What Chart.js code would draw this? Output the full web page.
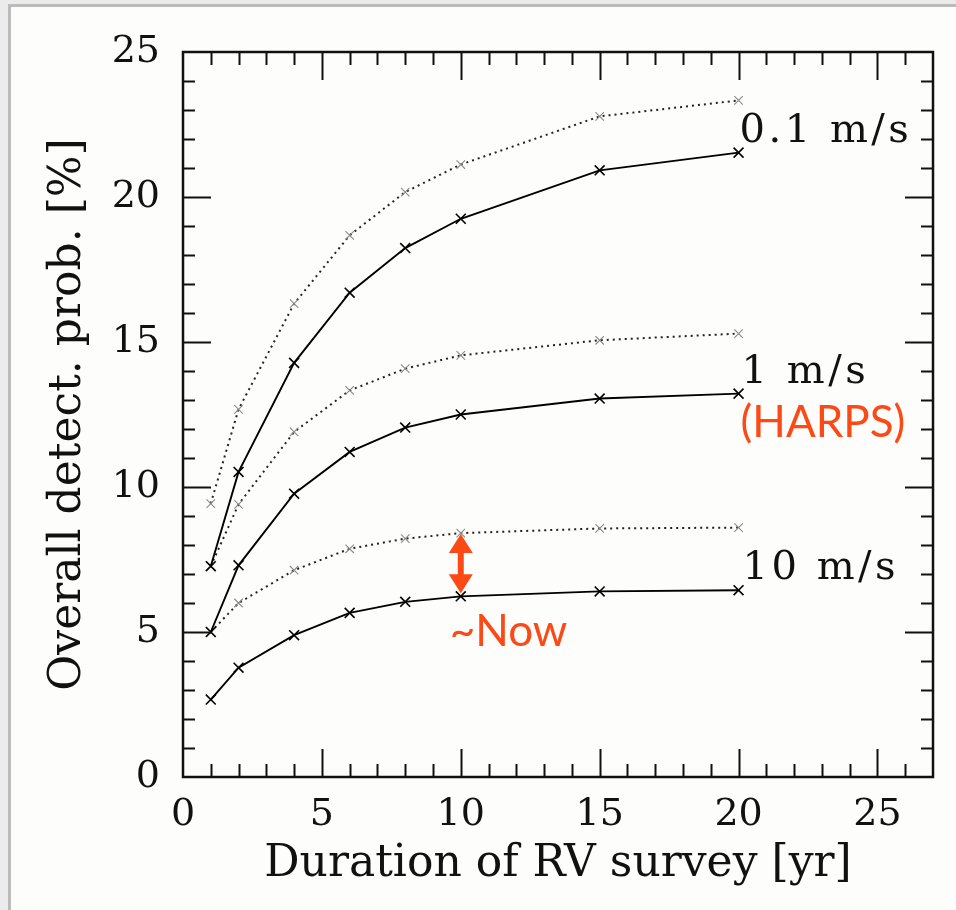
<!DOCTYPE html>
<html>
<head>
<meta charset="utf-8">
<script src="https://cdn.jsdelivr.net/npm/chart.js@4/dist/chart.umd.min.js"></script>
<style>
  html, body { margin: 0; padding: 0; background: #ebebeb; }
  #wrap { position: relative; width: 956px; height: 910px; overflow: hidden; }
  #panel { position: absolute; left: 8px; top: 4px; width: 1000px; height: 1000px; border: 3px solid #bbbbbb; background: #fdfdfb; }
  canvas { position: absolute; left: 0; top: 0; }
</style>
</head>
<body>
<div id="wrap">
  <div id="panel"></div>
  <canvas id="c" width="956" height="910"></canvas>
</div>
<script>
// ---- data ----
const years = [1, 2, 4, 6, 8, 10, 15, 20];
const solid01  = [7.27, 10.52, 14.28, 16.70, 18.24, 19.25, 20.92, 21.53];
const dotted01 = [9.43, 12.68, 16.32, 18.68, 20.17, 21.12, 22.78, 23.33];
const solid1   = [5.00, 7.30, 9.77, 11.21, 12.05, 12.50, 13.05, 13.22];
const dotted1  = [7.27, 9.40, 11.90, 13.33, 14.08, 14.54, 15.06, 15.29];
const solid10  = [2.67, 3.77, 4.89, 5.66, 6.04, 6.23, 6.40, 6.44];
const dotted10 = [5.00, 6.00, 7.13, 7.87, 8.22, 8.41, 8.57, 8.60];
const seriesLabels = ['0.1 m/s', '1 m/s', '10 m/s'];
const xTicks = [0, 5, 10, 15, 20, 25];
const yTicks = [0, 5, 10, 15, 20, 25];
const xTitle = 'Duration of RV survey [yr]';
const yTitle = 'Overall detect. prob. [%]';
const harpsNote = '(HARPS)';
const nowNote = '~Now';
const nowYear = 10;

const pts = arr => arr.map((v, i) => ({ x: years[i], y: v }));
const SERIF = "'DejaVu Serif', serif";
const RED = '#fb4a16';

function solidDS(label, arr) {
  return { label, data: pts(arr), borderColor: '#000', borderWidth: 1.9,
    pointStyle: 'crossRot', pointRadius: 7, pointBorderWidth: 1.6,
    pointBorderColor: '#000', pointBackgroundColor: '#000', tension: 0, fill: false };
}
function dottedDS(label, arr) {
  return { label, data: pts(arr), borderColor: '#222', borderWidth: 2, borderDash: [2, 4],
    pointStyle: 'crossRot', pointRadius: 6, pointBorderWidth: 1.1,
    pointBorderColor: '#8a8a8a', pointBackgroundColor: '#8a8a8a', tension: 0, fill: false };
}

const framePlugin = {
  id: 'frame',
  afterDatasetsDraw(chart) {
    const { ctx, chartArea: a, scales: { x, y } } = chart;
    ctx.save();
    ctx.strokeStyle = '#111';
    // ticks (inward) on all four sides
    ctx.lineWidth = 2;
    for (let v = 1; v < 27; v++) {
      const px = Math.round(x.getPixelForValue(v)) + 0.5;
      const len = v % 5 === 0 ? 28 : 13;
      ctx.beginPath();
      ctx.moveTo(px, a.bottom); ctx.lineTo(px, a.bottom - len);
      ctx.moveTo(px, a.top); ctx.lineTo(px, a.top + len);
      ctx.stroke();
    }
    for (let v = 1; v < 25; v++) {
      const py = Math.round(y.getPixelForValue(v)) + 0.5;
      const len = v % 5 === 0 ? 28 : 12;
      ctx.beginPath();
      ctx.moveTo(a.left, py); ctx.lineTo(a.left + len, py);
      ctx.moveTo(a.right, py); ctx.lineTo(a.right - len, py);
      ctx.stroke();
    }
    ctx.lineWidth = 2.5;
    ctx.strokeRect(a.left, a.top, a.right - a.left, a.bottom - a.top);

    // series labels anchored at the last point of each solid curve
    ctx.fillStyle = '#111';
    ctx.font = '40px ' + SERIF;
    ctx.textBaseline = 'middle';
    ctx.textAlign = 'left';
    try { ctx.letterSpacing = '3.5px'; } catch (e) {}
    const last = years.length - 1;
    const lx = x.getPixelForValue(years[last]);
    ctx.fillText(seriesLabels[0], lx + 1, y.getPixelForValue(solid01[last]) - 21);
    ctx.fillText(seriesLabels[1], lx + 3, y.getPixelForValue(solid1[last]) - 21);
    ctx.fillText(seriesLabels[2], lx + 4, y.getPixelForValue(solid10[last]) - 22);
    try { ctx.letterSpacing = '0px'; } catch (e) {}

    // red notes
    ctx.fillStyle = RED;
    ctx.font = '44px Lato, sans-serif';
    ctx.fillText(harpsNote, lx + 2, y.getPixelForValue(solid1[last]) + 29);
    const ni = years.indexOf(nowYear);
    const nx = x.getPixelForValue(nowYear);
    ctx.fillText(nowNote, nx - 11, y.getPixelForValue(solid10[ni]) + 35);

    // double arrow between the two 10 m/s curves at nowYear
    const yTop = y.getPixelForValue(dotted10[ni]) + 1;
    const yBot = y.getPixelForValue(solid10[ni]) - 3;
    const hw = 12, hl = 19;
    ctx.strokeStyle = RED;
    ctx.lineWidth = 6;
    ctx.beginPath(); ctx.moveTo(nx, yTop + hl - 2); ctx.lineTo(nx, yBot - hl + 2); ctx.stroke();
    ctx.beginPath();
    ctx.moveTo(nx, yTop); ctx.lineTo(nx - hw, yTop + hl); ctx.lineTo(nx + hw, yTop + hl); ctx.closePath();
    ctx.moveTo(nx, yBot); ctx.lineTo(nx - hw, yBot - hl); ctx.lineTo(nx + hw, yBot - hl); ctx.closePath();
    ctx.fill();
    ctx.restore();
  }
};

new Chart(document.getElementById('c'), {
  type: 'line',
  data: {
    datasets: [
      dottedDS('0.1 m/s (dotted)', dotted01),
      solidDS('0.1 m/s', solid01),
      dottedDS('1 m/s (dotted)', dotted1),
      solidDS('1 m/s', solid1),
      dottedDS('10 m/s (dotted)', dotted10),
      solidDS('10 m/s', solid10)
    ]
  },
  options: {
    responsive: false,
    animation: false,
    layout: { padding: { left: 0, top: 52, right: 23, bottom: 0 } },
    plugins: { legend: { display: false }, tooltip: { enabled: false } },
    scales: {
      x: {
        type: 'linear', min: 0, max: 27,
        afterFit: s => { s.height = 133; },
        afterBuildTicks: s => { s.ticks = xTicks.map(v => ({ value: v })); },
        ticks: { font: { family: SERIF, size: 38 }, color: '#111', padding: 15, maxRotation: 0, autoSkip: false },
        grid: { display: false, drawTicks: false },
        border: { display: false },
        title: { display: true, text: xTitle, font: { family: SERIF, size: 44 }, color: '#111', padding: { top: 0, bottom: 19 } }
      },
      y: {
        type: 'linear', min: 0, max: 25,
        afterFit: s => { s.width = 183; },
        afterBuildTicks: s => { s.ticks = yTicks.map(v => ({ value: v })); },
        ticks: { font: { family: SERIF, size: 38 }, color: '#111', padding: 23, autoSkip: false },
        grid: { display: false, drawTicks: false },
        border: { display: false },
        title: { display: true, text: yTitle, font: { family: SERIF, size: 44 }, color: '#111', padding: { top: 42, bottom: 0 } }
      }
    }
  },
  plugins: [framePlugin]
});
</script>
</body>
</html>
